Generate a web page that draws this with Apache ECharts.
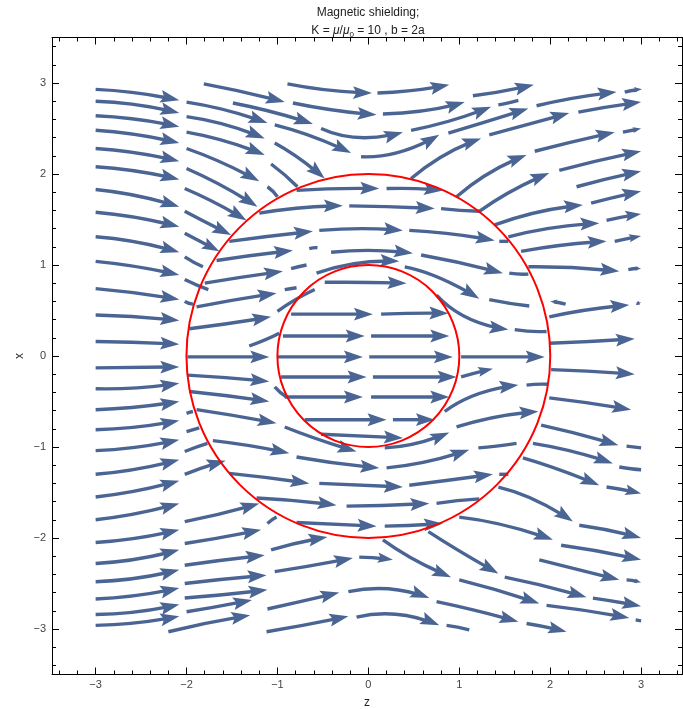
<!DOCTYPE html>
<html>
<head>
<meta charset="utf-8">
<script src="https://cdn.jsdelivr.net/npm/echarts@6/dist/echarts.min.js"></script>
<style>
html,body{margin:0;padding:0;background:#fff;}
#chart{width:683px;height:709px;}
</style>
</head>
<body>
<div id="chart"></div>
<script>
// ---------- data ----------
const titleLine1 = 'Magnetic shielding;';
const xAxisName = 'z';
const yAxisName = 'x';
const majorTicks = [-3, -2, -1, 0, 1, 2, 3];
const minorTicks = [-3.4, -3.2, -2.8, -2.6, -2.4, -2.2, -1.8, -1.6, -1.4, -1.2, -0.8, -0.6, -0.4, -0.2,
                    0.2, 0.4, 0.6, 0.8, 1.2, 1.4, 1.6, 1.8, 2.2, 2.4, 2.6, 2.8, 3.2, 3.4];
const circleRadii = [1, 2];   // a = 1, b = 2a

// stream segments: [zStart, xStart, zMid, xMid, zEnd, xEnd, arrowhead]
const leftColumn = [
  [-3, 2.93, -2.54, 2.89, -2.08, 2.81, 1],
  [-3, 2.80, -2.54, 2.76, -2.08, 2.67, 1],
  [-3, 2.64, -2.54, 2.60, -2.08, 2.52, 1],
  [-3, 2.48, -2.54, 2.43, -2.08, 2.34, 1],
  [-3, 2.28, -2.54, 2.23, -2.08, 2.14, 1],
  [-3, 2.08, -2.54, 2.03, -2.08, 1.94, 1],
  [-3, 1.83, -2.54, 1.76, -2.08, 1.64, 1],
  [-3, 1.58, -2.54, 1.52, -2.08, 1.42, 1],
  [-3, 1.31, -2.54, 1.25, -2.08, 1.14, 1],
  [-3, 1.04, -2.54, 0.98, -2.08, 0.89, 1],
  [-3, 0.74, -2.54, 0.69, -2.08, 0.62, 1],
  [-3, 0.45, -2.54, 0.43, -2.08, 0.39, 1],
  [-3, 0.16, -2.54, 0.15, -2.08, 0.13, 1],
  [-3, -0.13, -2.54, -0.125, -2.08, -0.12, 1],
  [-3, -0.36, -2.54, -0.35, -2.08, -0.30, 1],
  [-3, -0.59, -2.54, -0.56, -2.08, -0.50, 1],
  [-3, -0.81, -2.54, -0.78, -2.08, -0.71, 1],
  [-3, -1.04, -2.54, -1.00, -2.08, -0.92, 1],
  [-3, -1.30, -2.54, -1.24, -2.08, -1.14, 1],
  [-3, -1.55, -2.54, -1.48, -2.08, -1.37, 1],
  [-3, -1.80, -2.54, -1.73, -2.08, -1.62, 1],
  [-3, -2.05, -2.54, -2.00, -2.08, -1.91, 1],
  [-3, -2.28, -2.54, -2.23, -2.08, -2.13, 1],
  [-3, -2.48, -2.54, -2.44, -2.08, -2.35, 1],
  [-3, -2.67, -2.54, -2.63, -2.08, -2.55, 1],
  [-3, -2.84, -2.54, -2.81, -2.08, -2.73, 1],
  [-3, -2.96, -2.54, -2.93, -2.08, -2.86, 1]
];

const upperOuter = [
  [-1.81, 2.99, -1.37, 2.90, -0.92, 2.79, 1],
  [-0.89, 2.99, -0.43, 2.92, 0.04, 2.89, 1],
  [0.10, 2.89, 0.50, 2.92, 0.89, 2.98, 1],
  [1.15, 2.86, 1.48, 2.91, 1.82, 2.98, 1],
  [1.85, 2.75, 2.29, 2.84, 2.73, 2.90, 1],
  [2.82, 2.90, 2.91, 2.92, 3.01, 2.93, 1],
  [-2.00, 2.79, -1.56, 2.70, -1.11, 2.56, 1],
  [-1.49, 2.78, -1.05, 2.68, -0.61, 2.55, 1],
  [-0.83, 2.78, -0.37, 2.70, 0.09, 2.65, 1],
  [0.16, 2.66, 0.64, 2.70, 1.06, 2.79, 1],
  [0.47, 2.48, 0.92, 2.59, 1.35, 2.74, 1],
  [1.43, 2.76, 1.53, 2.78, 1.65, 2.81, 0],
  [0.88, 2.45, 1.31, 2.58, 1.76, 2.72, 1],
  [1.33, 2.43, 1.77, 2.55, 2.21, 2.67, 1],
  [2.31, 2.68, 2.65, 2.74, 3.00, 2.79, 1],
  [-2.00, 2.63, -1.57, 2.54, -1.14, 2.39, 1],
  [-1.03, 2.54, -0.61, 2.41, -0.19, 2.23, 1],
  [-0.52, 2.50, -0.10, 2.40, 0.38, 2.46, 1],
  [0.47, 1.95, 0.84, 2.21, 1.24, 2.39, 1],
  [1.83, 2.25, 2.27, 2.36, 2.71, 2.46, 1],
  [2.80, 2.46, 2.90, 2.48, 3.00, 2.50, 1],
  [-2.00, 2.46, -1.57, 2.36, -1.14, 2.21, 1],
  [-1.03, 2.34, -0.76, 2.17, -0.48, 1.95, 1],
  [-0.08, 2.19, 0.34, 2.24, 0.78, 2.43, 1],
  [0.97, 1.75, 1.33, 2.01, 1.74, 2.21, 1],
  [2.10, 2.04, 2.54, 2.15, 3.00, 2.25, 1],
  [-2.00, 2.28, -1.60, 2.12, -1.20, 1.92, 1],
  [-1.07, 2.11, -0.92, 1.99, -0.78, 1.86, 0],
  [1.22, 1.59, 1.59, 1.82, 1.99, 2.01, 1],
  [2.29, 1.86, 2.64, 1.95, 3.00, 2.03, 1],
  [-2.00, 2.06, -1.61, 1.87, -1.22, 1.64, 1],
  [-1.11, 1.86, -1.05, 1.81, -1.00, 1.75, 0],
  [1.39, 1.44, 1.86, 1.58, 2.36, 1.66, 1],
  [2.45, 1.68, 2.73, 1.75, 3.00, 1.81, 1],
  [-2.02, 1.84, -1.68, 1.68, -1.34, 1.49, 1],
  [1.54, 1.31, 2.03, 1.41, 2.54, 1.46, 1],
  [2.62, 1.49, 2.81, 1.53, 3.00, 1.56, 1],
  [-2.02, 1.59, -1.77, 1.46, -1.51, 1.33, 1],
  [1.68, 1.15, 2.15, 1.22, 2.62, 1.26, 1],
  [2.71, 1.26, 2.85, 1.29, 3.00, 1.32, 1],
  [-2.02, 1.35, -1.83, 1.25, -1.64, 1.15, 1],
  [1.76, 0.98, 2.26, 0.97, 2.76, 0.93, 1],
  [2.86, 0.95, 2.93, 0.96, 3.00, 0.96, 1]
];

const shellUpper = [
  [-0.79, 1.82, -0.34, 1.84, 0.12, 1.84, 1],
  [0.20, 1.84, 0.51, 1.84, 0.82, 1.82, 1],
  [-1.20, 1.57, -0.73, 1.63, -0.28, 1.65, 1],
  [-0.21, 1.65, 0.26, 1.64, 0.73, 1.62, 1],
  [0.80, 1.62, 1.01, 1.60, 1.22, 1.59, 0],
  [-1.53, 1.26, -1.06, 1.32, -0.61, 1.37, 1],
  [-0.54, 1.38, -0.07, 1.40, 0.38, 1.38, 1],
  [0.45, 1.38, 0.92, 1.34, 1.39, 1.27, 1],
  [1.44, 1.26, 1.49, 1.26, 1.54, 1.26, 0],
  [-1.67, 1.05, -1.25, 1.11, -0.83, 1.16, 1],
  [-0.65, 1.18, -0.60, 1.19, -0.56, 1.19, 0],
  [-0.41, 1.14, 0.04, 1.16, 0.49, 1.13, 1],
  [0.58, 1.11, 1.03, 1.02, 1.48, 0.91, 1],
  [1.55, 0.91, 1.65, 0.90, 1.76, 0.90, 0],
  [-0.57, 0.91, -0.12, 1.02, 0.34, 1.04, 1],
  [0.40, 0.98, 0.78, 0.86, 1.22, 0.63, 1],
  [1.33, 0.62, 1.55, 0.58, 1.77, 0.55, 0],
  [-0.48, 0.81, -0.04, 0.81, 0.42, 0.80, 1],
  [-2.02, 1.09, -1.92, 1.03, -1.82, 0.98, 0],
  [-2.02, 0.84, -1.89, 0.78, -1.76, 0.73, 0],
  [-1.80, 0.80, -1.37, 0.87, -0.94, 0.93, 1],
  [-0.85, 0.96, -0.77, 0.98, -0.68, 1.00, 0],
  [-2.02, 0.60, -1.98, 0.58, -1.93, 0.57, 0],
  [-1.89, 0.54, -1.45, 0.62, -1.01, 0.69, 1],
  [-0.92, 0.73, -0.86, 0.74, -0.79, 0.75, 0],
  [-1.00, 0.49, -0.80, 0.62, -0.59, 0.73, 0],
  [-1.97, 0.30, -1.52, 0.36, -1.07, 0.43, 1],
  [-1.31, 0.11, -1.13, 0.18, -0.98, 0.25, 0],
  [0.75, 0.67, 1.09, 0.42, 1.54, 0.29, 1],
  [1.61, 0.29, 1.79, 0.27, 1.96, 0.27, 0]
];

const centreRows = [
  [-0.85, 0.46, -0.40, 0.46, 0.05, 0.46, 1],
  [0.14, 0.46, 0.51, 0.47, 0.88, 0.47, 1],
  [-0.94, 0.22, -0.49, 0.22, -0.04, 0.22, 1],
  [0.03, 0.22, 0.46, 0.22, 0.89, 0.22, 1],
  [-1.99, -0.01, -1.54, -0.01, -1.09, -0.01, 1],
  [-1.00, -0.01, -0.53, -0.01, -0.06, -0.01, 1],
  [0.01, -0.01, 0.48, -0.01, 0.93, -0.01, 1],
  [1.02, -0.01, 1.48, -0.01, 1.94, -0.01, 1],
  [-1.99, -0.21, -1.54, -0.24, -1.09, -0.28, 1],
  [-0.96, -0.23, -0.49, -0.23, -0.02, -0.23, 1],
  [0.05, -0.23, 0.51, -0.23, 0.97, -0.23, 1],
  [1.02, -0.23, 1.20, -0.18, 1.37, -0.14, 1],
  [-1.97, -0.39, -1.53, -0.44, -1.09, -0.50, 1],
  [-1.03, -0.34, -0.97, -0.40, -0.90, -0.45, 0],
  [-0.92, -0.45, -0.49, -0.45, -0.06, -0.45, 1],
  [0.03, -0.45, 0.46, -0.45, 0.89, -0.45, 1],
  [0.84, -0.61, 1.20, -0.42, 1.65, -0.32, 1],
  [1.74, -0.32, 1.85, -0.31, 1.98, -0.31, 0],
  [-2.00, -0.63, -1.97, -0.62, -1.93, -0.61, 0],
  [-1.89, -0.59, -1.45, -0.66, -1.01, -0.74, 1],
  [-0.70, -0.70, -0.25, -0.70, 0.20, -0.70, 1],
  [0.27, -0.70, 0.50, -0.70, 0.73, -0.70, 1],
  [-0.52, -0.86, -0.07, -0.88, 0.38, -0.90, 1],
  [0.18, -1.01, 0.53, -0.96, 0.89, -0.84, 1],
  [0.97, -0.78, 1.41, -0.67, 1.87, -0.61, 1],
  [-0.92, -0.78, -0.54, -0.92, -0.13, -1.05, 1],
  [-2.00, -0.83, -1.93, -0.81, -1.86, -0.79, 0],
  [-1.71, -0.93, -1.28, -0.99, -0.87, -1.07, 1]
];

const rightOuter = [
  [2.17, 0.57, 2.08, 0.59, 2.00, 0.60, 1],
  [1.99, 0.43, 2.43, 0.51, 2.87, 0.56, 1],
  [2.95, 0.58, 2.97, 0.58, 3.00, 0.59, 1],
  [1.99, 0.14, 2.46, 0.16, 2.93, 0.19, 1],
  [2.01, -0.15, 2.47, -0.17, 2.93, -0.20, 1],
  [1.99, -0.46, 2.45, -0.52, 2.89, -0.59, 1],
  [1.90, -0.76, 2.32, -0.86, 2.75, -0.98, 1],
  [2.84, -0.99, 2.92, -1.00, 3.00, -1.01, 0],
  [1.81, -0.96, 2.25, -1.05, 2.69, -1.18, 1],
  [2.76, -1.22, 2.89, -1.24, 3.00, -1.25, 0],
  [1.70, -1.12, 2.10, -1.25, 2.54, -1.42, 1],
  [2.62, -1.44, 2.81, -1.47, 3.00, -1.51, 1],
  [1.43, -1.44, 1.83, -1.58, 2.25, -1.82, 1],
  [2.32, -1.86, 2.67, -1.92, 3.00, -2.00, 1]
];

const shellLower = [
  [-2.02, -1.05, -1.89, -1.00, -1.77, -0.96, 0],
  [-0.79, -1.11, -0.34, -1.18, 0.12, -1.23, 1],
  [0.20, -1.23, 0.65, -1.16, 1.11, -1.03, 1],
  [1.21, -1.01, 1.41, -0.99, 1.63, -0.96, 0],
  [-2.02, -1.30, -1.80, -1.22, -1.57, -1.15, 1],
  [-1.53, -1.29, -1.09, -1.34, -0.65, -1.40, 1],
  [-0.54, -1.40, -0.07, -1.42, 0.38, -1.44, 1],
  [0.45, -1.42, 0.92, -1.36, 1.37, -1.30, 1],
  [1.44, -1.30, 1.49, -1.30, 1.54, -1.30, 0],
  [-1.23, -1.56, -0.79, -1.59, -0.35, -1.64, 1],
  [-0.24, -1.65, 0.21, -1.64, 0.67, -1.62, 1],
  [0.75, -1.62, 0.98, -1.59, 1.22, -1.57, 0],
  [-2.02, -1.82, -1.61, -1.73, -1.20, -1.62, 1],
  [-1.11, -1.84, -1.06, -1.80, -1.01, -1.77, 0],
  [-0.79, -1.83, -0.35, -1.85, 0.09, -1.87, 1],
  [0.18, -1.87, 0.50, -1.86, 0.82, -1.84, 1]
];

const lowerOuter = [
  [-2.02, -2.06, -1.60, -1.99, -1.18, -1.91, 1],
  [-1.07, -2.13, -0.76, -2.05, -0.45, -1.99, 1],
  [-2.02, -2.30, -1.58, -2.24, -1.14, -2.19, 1],
  [-1.03, -2.37, -0.60, -2.30, -0.17, -2.22, 1],
  [-0.10, -2.21, 0.09, -2.22, 0.27, -2.24, 1],
  [1.00, -1.77, 1.50, -1.86, 2.03, -2.02, 1],
  [2.12, -2.08, 2.56, -2.15, 3.00, -2.24, 1],
  [0.66, -1.93, 1.03, -2.16, 1.43, -2.39, 1],
  [1.50, -2.43, 1.95, -2.53, 2.40, -2.65, 1],
  [2.47, -2.66, 2.73, -2.70, 3.00, -2.75, 1],
  [0.16, -2.02, 0.51, -2.24, 0.91, -2.43, 1],
  [1.88, -2.24, 2.32, -2.35, 2.76, -2.46, 1],
  [2.84, -2.46, 2.92, -2.47, 3.00, -2.49, 1],
  [-2.02, -2.50, -1.57, -2.45, -1.12, -2.41, 1],
  [-1.11, -2.78, -0.71, -2.69, -0.32, -2.60, 1],
  [-0.22, -2.59, 0.23, -2.56, 0.67, -2.66, 1],
  [1.00, -2.46, 1.44, -2.58, 1.88, -2.72, 1],
  [1.96, -2.74, 2.41, -2.80, 2.87, -2.88, 1],
  [2.94, -2.90, 2.97, -2.905, 3.00, -2.91, 0],
  [-2.02, -2.66, -1.57, -2.62, -1.11, -2.57, 1],
  [0.75, -2.70, 1.19, -2.80, 1.65, -2.92, 1],
  [1.74, -2.94, 1.96, -2.98, 2.18, -3.03, 1],
  [-2.00, -2.81, -1.64, -2.75, -1.28, -2.68, 1],
  [-0.13, -2.87, 0.32, -2.84, 0.78, -2.96, 1],
  [0.86, -2.96, 0.98, -2.98, 1.11, -3.01, 0],
  [-2.20, -3.03, -1.75, -2.93, -1.30, -2.85, 1],
  [-1.12, -3.03, -0.67, -2.95, -0.22, -2.86, 1]
];

// ---------- drawing ----------
const STREAM = '#4a6593';
const FONT = '"Liberation Sans", Arial, sans-serif';
const segments = [].concat(leftColumn, upperOuter, shellUpper, centreRows, rightOuter, shellLower, lowerOuter);

function renderStream(params, api) {
  const s = api.coord([api.value(0), api.value(1)]);
  const m = api.coord([api.value(2), api.value(3)]);
  const e = api.coord([api.value(4), api.value(5)]);
  const hasHead = api.value(6) > 0;
  const c = [2 * m[0] - (s[0] + e[0]) / 2, 2 * m[1] - (s[1] + e[1]) / 2];
  let tx = e[0] - c[0], ty = e[1] - c[1];
  const tl = Math.hypot(tx, ty) || 1; tx /= tl; ty /= tl;
  const chord = Math.hypot(e[0] - s[0], e[1] - s[1]) || 1;
  const children = [];
  let percent = 1;
  if (hasHead) {
    const hl = Math.min(19, chord * 0.45);
    const hw = hl * 0.34;
    percent = Math.max(0.05, 1 - (hl * 0.6) / chord);
    const bx = e[0] - tx * hl, by = e[1] - ty * hl;
    const nx = -ty, ny = tx;
    const notch = [e[0] - tx * hl * 0.82, e[1] - ty * hl * 0.82];
    children.push({
      type: 'polygon',
      shape: { points: [[e[0], e[1]], [bx + nx * hw, by + ny * hw], notch, [bx - nx * hw, by - ny * hw]] },
      style: { fill: STREAM, stroke: null }
    });
  }
  children.unshift({
    type: 'bezierCurve',
    shape: { x1: s[0], y1: s[1], x2: e[0], y2: e[1], cpx1: c[0], cpy1: c[1], percent: percent },
    style: { stroke: STREAM, lineWidth: 3.4, fill: null, lineCap: 'butt' }
  });
  return { type: 'group', children: children };
}

function renderCircle(params, api) {
  const c = api.coord([api.value(0), api.value(1)]);
  const sz = api.size([api.value(2), api.value(2)]);
  return {
    type: 'circle',
    shape: { cx: c[0], cy: c[1], r: (sz[0] + sz[1]) / 2 },
    style: { stroke: '#ff0000', fill: 'none', lineWidth: 2 }
  };
}

const fmt = v => String(v).replace('-', '\u2212');
const XMIN = -3.48, XMAX = 3.45, YMIN = -3.5, YMAX = 3.5;
const gridRect = { left: 52, top: 37.5, width: 630, height: 637, containLabel: false, outerBoundsMode: 'none' };

function axis(kind, pos, gridIndex, ticks, len, withLine, withLabel, name) {
  const isX = kind === 'x';
  const a = {
    type: 'value', gridIndex: gridIndex, position: pos,
    min: isX ? XMIN : YMIN, max: isX ? XMAX : YMAX,
    axisLine: { show: withLine, onZero: false, lineStyle: { color: '#000', width: 1 } },
    axisTick: { show: true, inside: true, length: len, customValues: ticks, lineStyle: { color: '#000', width: 1 } },
    axisLabel: { show: withLabel, customValues: ticks, formatter: fmt, color: '#444', fontSize: 11, fontFamily: FONT, margin: isX ? 5 : 6 },
    splitLine: { show: false }
  };
  if (name) {
    a.name = name; a.nameLocation = 'middle';
    a.nameGap = isX ? 22 : 26;
    a.nameMoveOverlap = false;
    a.nameTextStyle = { color: '#222', fontSize: 12, fontFamily: FONT };
    if (!isX) a.nameRotate = 90;
  }
  return a;
}

const chart = echarts.init(document.getElementById('chart'), null, { renderer: 'canvas' });
chart.setOption({
  animation: false,
  backgroundColor: '#fff',
  grid: [Object.assign({}, gridRect), Object.assign({}, gridRect)],
  xAxis: [
    axis('x', 'bottom', 0, majorTicks, 7, true, true, xAxisName),
    axis('x', 'top', 0, majorTicks, 7, true, false),
    axis('x', 'bottom', 1, minorTicks, 4, false, false),
    axis('x', 'top', 1, minorTicks, 4, false, false)
  ],
  yAxis: [
    axis('y', 'left', 0, majorTicks, 7, true, true, yAxisName),
    axis('y', 'right', 0, majorTicks, 7, true, false),
    axis('y', 'left', 1, minorTicks, 4, false, false),
    axis('y', 'right', 1, minorTicks, 4, false, false)
  ],
  graphic: [
    { type: 'text', x: 368, y: 13, silent: true,
      style: { text: titleLine1, align: 'center', verticalAlign: 'middle', font: '12px ' + FONT, fill: '#222' } },
    { type: 'text', x: 368, y: 31, silent: true,
      style: {
        text: '{n|K = }{i|\u03bc}{n|/}{i|\u03bc}{s|0}{n| = 10 , b = 2a}',
        align: 'center', verticalAlign: 'middle',
        rich: {
          n: { fontSize: 12, fontFamily: FONT, fill: '#222', lineHeight: 16 },
          i: { fontSize: 12, fontFamily: FONT, fontStyle: 'italic', fill: '#222', lineHeight: 16 },
          s: { fontSize: 8, fontFamily: FONT, fill: '#222', lineHeight: 10, verticalAlign: 'bottom' }
        }
      } }
  ],
  series: [
    { type: 'custom', coordinateSystem: 'cartesian2d', xAxisIndex: 0, yAxisIndex: 0,
      renderItem: renderStream, data: segments, silent: true, z: 2 },
    { type: 'custom', coordinateSystem: 'cartesian2d', xAxisIndex: 0, yAxisIndex: 0,
      renderItem: renderCircle, data: circleRadii.map(r => [0, 0, r]), silent: true, z: 3 }
  ]
});
</script>
</body>
</html>
